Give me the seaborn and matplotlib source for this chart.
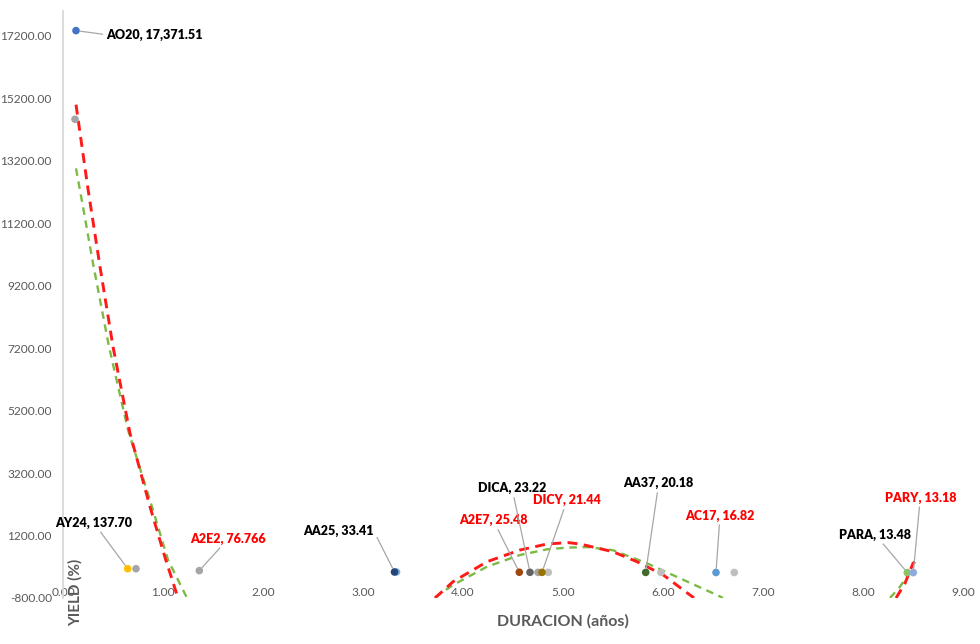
import numpy as np
import pandas as pd
import matplotlib
matplotlib.use("Agg")
import matplotlib.pyplot as plt
import seaborn as sns

# ---------------- data ----------------
bonds = ["AO20", "AY24", "A2E2", "AA25", "A2E7", "DICA", "DICY", "AA37", "AC17", "PARA", "PARY"]
duration = [0.13, 0.647, 1.363, 3.315, 4.563, 4.67, 4.79, 5.827, 6.53, 8.443, 8.503]
yields = [17371.51, 137.70, 76.766, 33.41, 25.48, 23.22, 21.44, 20.18, 16.82, 13.48, 13.18]
label_texts = ["AO20, 17,371.51", "AY24, 137.70", "A2E2, 76.766", "AA25, 33.41", "A2E7, 25.48",
               "DICA, 23.22", "DICY, 21.44", "AA37, 20.18", "AC17, 16.82", "PARA, 13.48", "PARY, 13.18"]

# second (grey) series of points
extra_duration = [0.12, 0.73, 3.335, 4.75, 4.853, 5.98, 6.713]
extra_yield = [14532, 137.7, 33.41, 21.44, 21.0, 20.0, 17.0]

# trend lines (segments visible within the axis range)
red_seg = [1, 1, 1, 1, 1, 1, 1, 1,
           2, 2, 2, 2, 2, 2, 2, 2, 2, 2, 2,
           3, 3, 3, 3]
red_x = [0.13, 0.25, 0.37, 0.50, 0.67, 0.87, 1.02, 1.15,
         3.72, 3.90, 4.24, 4.57, 4.84, 5.05, 5.17, 5.50, 5.74, 6.00, 6.31,
         8.33, 8.42, 8.50, 8.52]
red_y = [15000, 12300, 9811, 7250, 4474, 2123, 500, -800,
         -800, -279, 362, 737, 929, 975, 929, 682, 362, -57, -800,
         -800, -330, 311, 362]

green_seg = [1, 1, 1, 1, 1, 1, 1, 1,
             2, 2, 2, 2, 2, 2, 2, 2, 2, 2, 2, 2,
             3, 3, 3, 3]
green_x = [0.13, 0.20, 0.30, 0.46, 0.65, 0.89, 1.05, 1.24,
           3.72, 3.90, 4.24, 4.57, 4.84, 5.05, 5.25, 5.50, 5.84, 6.17, 6.54, 6.60,
           8.27, 8.37, 8.45, 8.47]
green_y = [12960, 11730, 9920, 7250, 4580, 2120, 420, -800,
           -780, -384, 202, 577, 759, 815, 830, 730, 311, -170, -705, -800,
           -800, -438, -57, 48]

x_ticks = [0, 1, 2, 3, 4, 5, 6, 7, 8, 9]
y_ticks = [-800, 1200, 3200, 5200, 7200, 9200, 11200, 13200, 15200, 17200]

# ---------------- styles ----------------
point_colors = ["#4472C4", "#FFC000", "#A5A5A5", "#264478", "#9E480E", "#636363",
                "#997300", "#43682B", "#5B9BD5", "#8CC168", "#8FAADC"]
extra_colors = ["#A5A5A5", "#A5A5A5", "#7CAFDD", "#A5A5A5", "#BFBFBF", "#BFBFBF", "#BFBFBF"]
label_colors = ["#000000", "#000000", "#FF0000", "#000000", "#FF0000", "#000000",
                "#FF0000", "#000000", "#FF0000", "#000000", "#FF0000"]
# label offsets in pixels (dx, dy up) and leader attachment point on the label
label_offsets = [(78, -4), (-34, 46), (29, 32), (-56, 41), (-26, 52), (-18, 84),
                 (25, 72), (13, 89), (4, 57), (-32, 38), (7, 75)]
label_relpos = [(0, 0.5), (0.5, 0.5), (0.5, 0.5), (1.0, 0.5), (0.5, 0.5), (0.5, 0.5),
                (0.5, 0.5), (0.5, 0.5), (0.5, 0.5), (0.5, 0.5), (0.5, 0.5)]

sns.set_theme(style="white")
plt.rcParams["font.family"] = ["Lato", "DejaVu Sans"]

fig = plt.figure(figsize=(9.8, 6.44), dpi=100)
fig.patch.set_facecolor("white")
ax = fig.add_axes([63 / 980, 46 / 644, (978 - 63) / 980, (598 - 11) / 644])

df_red = pd.DataFrame({"x": red_x, "y": red_y, "seg": red_seg})
df_green = pd.DataFrame({"x": green_x, "y": green_y, "seg": green_seg})

sns.lineplot(data=df_green, x="x", y="y", units="seg", estimator=None, sort=False,
             color="#7DBA45", linewidth=1.7, linestyle=(0, (3.2, 2.4)), ax=ax, zorder=2)
sns.lineplot(data=df_red, x="x", y="y", units="seg", estimator=None, sort=False,
             color="#FF1A1A", linewidth=2.1, linestyle=(0, (3.4, 2.2)), ax=ax, zorder=3)

df_extra = pd.DataFrame({"d": extra_duration, "y": extra_yield, "c": extra_colors})
sns.scatterplot(data=df_extra, x="d", y="y", hue="c", palette={c: c for c in set(extra_colors)},
                s=30, linewidth=0, legend=False, ax=ax, zorder=4)
df_pts = pd.DataFrame({"d": duration, "y": yields, "b": bonds})
sns.scatterplot(data=df_pts, x="d", y="y", hue="b", palette=dict(zip(bonds, point_colors)),
                s=30, linewidth=0, legend=False, ax=ax, zorder=5)

for b, d, y, t, col, off, rp in zip(bonds, duration, yields, label_texts, label_colors,
                                    label_offsets, label_relpos):
    ax.annotate(t, xy=(d, y), xytext=off, textcoords="offset pixels",
                ha="center", va="center", fontsize=9, fontweight="heavy", color=col,
                arrowprops=dict(arrowstyle="-", color="#A6A6A6", lw=0.9, shrinkA=0, shrinkB=3,
                                relpos=rp),
                zorder=6, annotation_clip=False)

ax.set_xlim(0, 9.15)
ax.set_ylim(-800, 18000)
ax.set_xticks(x_ticks)
ax.set_xticklabels([f"{v:.2f}" for v in x_ticks])
ax.set_yticks(y_ticks)
ax.set_yticklabels([f"{v:.2f}" for v in y_ticks])
ax.set_xlabel("")
ax.set_ylabel("")
ax.tick_params(axis="both", length=0, labelsize=8.6, labelcolor="#595959")
ax.tick_params(axis="y", pad=8)
ax.tick_params(axis="x", pad=10)

ax.spines["bottom"].set_position(("data", 0))
ax.spines["bottom"].set_visible(False)
ax.spines["top"].set_visible(False)
ax.spines["right"].set_visible(False)
ax.spines["left"].set_color("#D9D9D9")
ax.spines["left"].set_linewidth(1.3)
ax.grid(False)
ax.set_facecolor("white")

fig.text(75 / 980, 1 - 592 / 644, "YIELD (%)", rotation=90, ha="center", va="center",
         fontsize=11, fontweight="bold", color="#595959")
fig.text(563 / 980, 1 - 621 / 644, "DURACION (años)", ha="center", va="center",
         fontsize=11.5, fontweight="bold", color="#595959")

fig.savefig("out.png", dpi=100, facecolor="white")
